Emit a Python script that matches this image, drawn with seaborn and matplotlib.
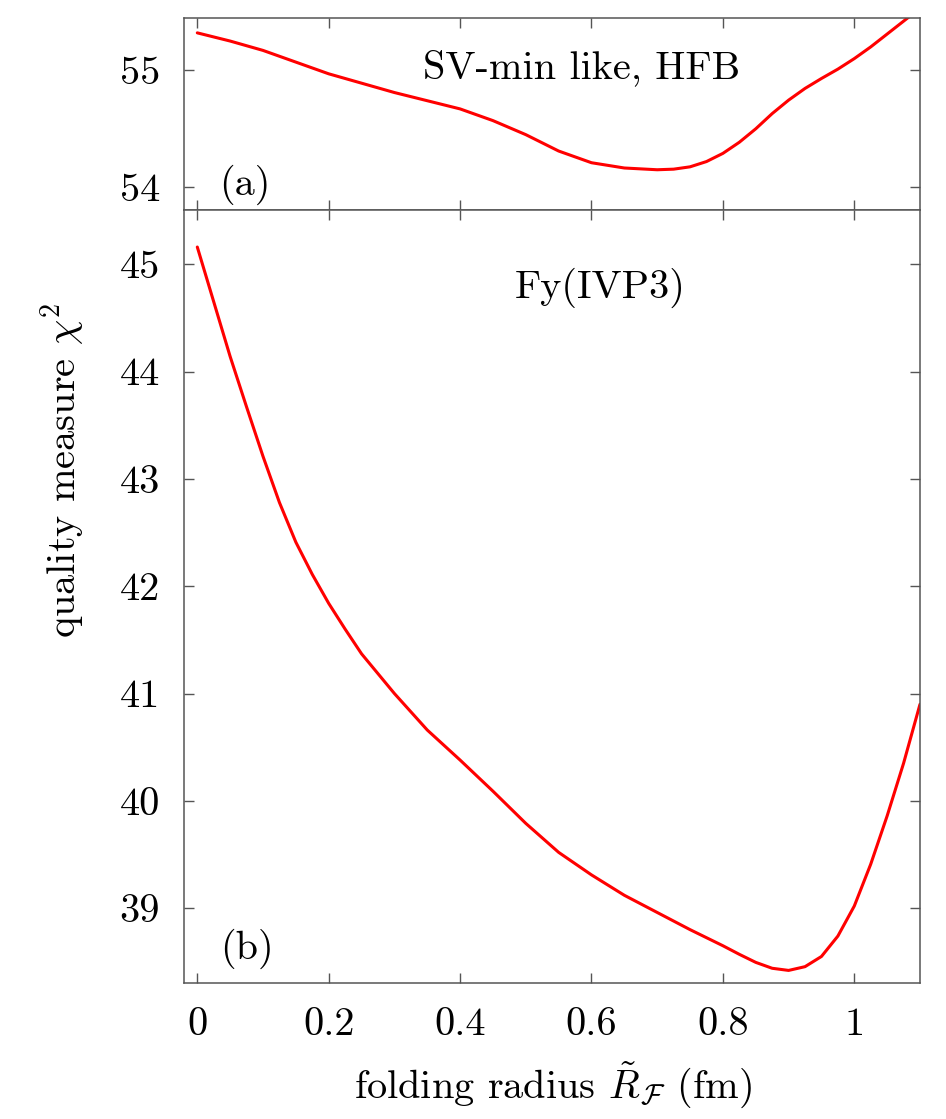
import numpy as np
import pandas as pd
import seaborn as sns
import matplotlib
matplotlib.use("Agg")
import matplotlib.pyplot as plt

# ---- data ----
radius_top = [0.0, 0.05, 0.1, 0.15, 0.2, 0.25, 0.3, 0.35, 0.4, 0.45, 0.5, 0.55,
              0.6, 0.65, 0.7, 0.725, 0.75, 0.775, 0.8, 0.825, 0.85, 0.875, 0.9, 0.925,
              0.95, 0.975, 1.0, 1.025, 1.05, 1.075, 1.1]
chi2_svmin = [55.32, 55.25, 55.17, 55.07, 54.97, 54.89, 54.81, 54.74, 54.67, 54.57,
              54.45, 54.31, 54.21, 54.165, 54.15, 54.155, 54.175, 54.22, 54.29, 54.385,
              54.50, 54.63, 54.745, 54.845, 54.93, 55.01, 55.10, 55.20, 55.31, 55.42,
              55.53]
radius_bot = [0.0, 0.025, 0.05, 0.075, 0.1, 0.125, 0.15, 0.175, 0.2, 0.225, 0.25, 0.3,
              0.35, 0.4, 0.45, 0.5, 0.55, 0.6, 0.65, 0.7, 0.75, 0.8, 0.825, 0.85,
              0.875, 0.9, 0.925, 0.95, 0.975, 1.0, 1.025, 1.05, 1.075, 1.1]
chi2_fy = [45.16, 44.65, 44.14, 43.67, 43.21, 42.78, 42.41, 42.11, 41.84, 41.60, 41.37,
           41.00, 40.66, 40.38, 40.09, 39.79, 39.52, 39.31, 39.12, 38.96, 38.80, 38.65,
           38.57, 38.495, 38.44, 38.42, 38.455, 38.55, 38.74, 39.02, 39.41, 39.86,
           40.35, 40.90]
xtick_vals = [0, 0.2, 0.4, 0.6, 0.8, 1.0]
xtick_labels = ["0", "0.2", "0.4", "0.6", "0.8", "1"]
ytick_top = [54, 55]
ytick_bottom = [39, 40, 41, 42, 43, 44, 45]
label_top = "SV-min like, HFB"
label_bottom = "Fy(IVP3)"

sns.set_style("ticks")
plt.rcParams["font.family"] = ["cmr10", "DejaVu Serif"]
plt.rcParams["mathtext.fontset"] = "cm"
plt.rcParams["axes.formatter.use_mathtext"] = True
plt.rcParams["axes.unicode_minus"] = False
plt.rcParams["text.color"] = "black"
plt.rcParams["axes.labelcolor"] = "black"

FS = 29
spine_col = "#555555"

fig = plt.figure(figsize=(9.46, 11.19), dpi=100)
left, right = 183.5 / 946, 920 / 946
ax_top = fig.add_axes([left, 1 - 210 / 1119, right - left, (210 - 18) / 1119])
ax_bot = fig.add_axes([left, 1 - 983.3 / 1119, right - left, (983.3 - 210) / 1119])

df_top = pd.DataFrame({"r": radius_top, "chi2": chi2_svmin})
df_bot = pd.DataFrame({"r": radius_bot, "chi2": chi2_fy})
sns.lineplot(data=df_top, x="r", y="chi2", ax=ax_top, color="#ff0000", lw=2.2)
sns.lineplot(data=df_bot, x="r", y="chi2", ax=ax_bot, color="#ff0000", lw=2.2)

ax_top.set_xlim(-0.021, 1.1)
ax_bot.set_xlim(-0.021, 1.1)
ax_top.set_ylim(53.806, 55.447)
ax_bot.set_ylim(38.30, 45.505)

for ax in (ax_top, ax_bot):
    ax.set_xticks(xtick_vals)
    ax.tick_params(direction="in", length=7, width=1.0, color=spine_col,
                   labelcolor="black", top=True, right=True, labelsize=FS, pad=17)
    for s in ax.spines.values():
        s.set_color(spine_col)
        s.set_linewidth(1.1)
    ax.set_xlabel("")
    ax.set_ylabel("")

ax_top.set_xticklabels([])
ax_top.set_yticks(ytick_top)
ax_top.set_yticklabels([str(v) for v in ytick_top])
ax_bot.set_xticklabels(xtick_labels)
ax_bot.set_yticks(ytick_bottom)
ax_bot.set_yticklabels([str(v) for v in ytick_bottom])

ax_top.text(0.585, 55.02, label_top, fontsize=FS, ha="center", va="center")
ax_top.text(0.073, 54.02, "(a)", fontsize=FS, ha="center", va="center")
ax_bot.text(0.613, 44.78, label_bottom, fontsize=FS, ha="center", va="center")
ax_bot.text(0.076, 38.62, "(b)", fontsize=FS, ha="center", va="center")

fig.text(553 / 946, 1 - 1085 / 1119, r"folding radius $\tilde{R}_{\mathcal{F}}$ (fm)",
         fontsize=FS, ha="center", va="center")
fig.text(63 / 946, 1 - 470 / 1119, r"quality measure $\chi^2$",
         fontsize=FS, ha="center", va="center", rotation=90)

fig.savefig("out.png", dpi=100)
